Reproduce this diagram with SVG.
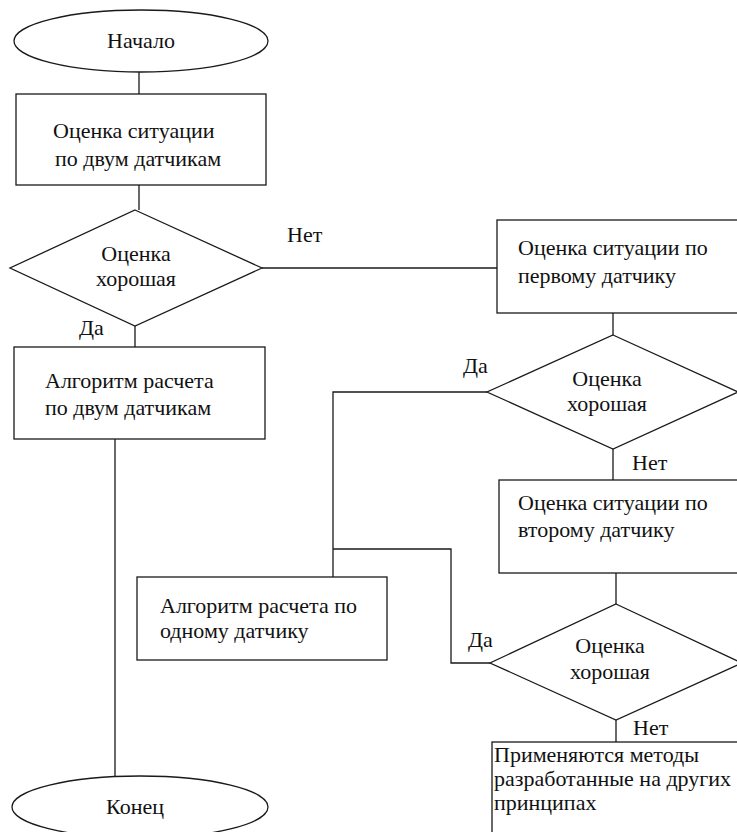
<svg xmlns="http://www.w3.org/2000/svg" width="737" height="832" viewBox="0 0 737 832" font-family="Liberation Serif, DejaVu Serif, serif" font-size="22">
<style>
.s{fill:#fff;stroke:#1a1a1a;stroke-width:1.3}
.c{fill:none;stroke:#1a1a1a;stroke-width:1.3}
text{fill:#111}
.m{text-anchor:middle}
</style>
<rect width="737" height="832" fill="#fff"/>
<g id="connectors">
<path class="c" d="M139 72V94"/>
<path class="c" d="M139 185V210"/>
<path class="c" d="M135 326V347"/>
<path class="c" d="M115 439V776"/>
<path class="c" d="M262 268H497"/>
<path class="c" d="M613 313V335"/>
<path class="c" d="M613 449V480"/>
<path class="c" d="M487 392H333V577"/>
<path class="c" d="M333 549H451V663H490"/>
<path class="c" d="M616 573V604"/>
<path class="c" d="M616 720V742"/>
</g>
<g id="start">
<ellipse class="s" cx="141" cy="41" rx="127" ry="31"/>
<text class="m" x="141" y="48">Начало</text>
</g>
<g id="box1">
<rect class="s" x="16" y="94" width="250" height="91"/>
<text x="53" y="138">Оценка ситуации</text>
<text x="55" y="166">по двум датчикам</text>
</g>
<g id="dec1">
<path class="s" d="M135 210L262 268L135 326L10 268Z"/>
<text class="m" x="136" y="261">Оценка</text>
<text class="m" x="136" y="286">хорошая</text>
</g>
<g id="box2">
<rect class="s" x="14" y="347" width="251" height="92"/>
<text x="45" y="388">Алгоритм расчета</text>
<text x="45" y="415">по двум датчикам</text>
</g>
<g id="end">
<ellipse class="s" cx="140" cy="807" rx="128" ry="31"/>
<text class="m" x="135" y="814">Конец</text>
</g>
<g id="box3">
<rect class="s" x="497" y="220" width="260" height="93"/>
<text x="518" y="255">Оценка ситуации по</text>
<text x="518" y="283">первому датчику</text>
</g>
<g id="dec2">
<path class="s" d="M613 335L738 392L613 449L487 392Z"/>
<text class="m" x="607" y="386">Оценка</text>
<text class="m" x="607" y="411">хорошая</text>
</g>
<g id="box4">
<rect class="s" x="137" y="577" width="250" height="83"/>
<text x="160" y="613">Алгоритм расчета по</text>
<text x="160" y="638">одному датчику</text>
</g>
<g id="box5">
<rect class="s" x="499" y="480" width="260" height="93"/>
<text x="518" y="510">Оценка ситуации по</text>
<text x="518" y="537">второму датчику</text>
</g>
<g id="dec3">
<path class="s" d="M616 604L742 663L616 720L490 663Z"/>
<text class="m" x="610" y="653">Оценка</text>
<text class="m" x="610" y="679">хорошая</text>
</g>
<g id="box6">
<rect class="s" x="492" y="742" width="270" height="110"/>
<text x="494" y="762">Применяются методы</text>
<text x="494" y="786">разработанные на других</text>
<text x="494" y="810">принципах</text>
</g>
<g id="labels">
<text x="79" y="335">Да</text>
<text x="287" y="242">Нет</text>
<text x="463" y="373">Да</text>
<text x="632" y="470">Нет</text>
<text x="468" y="647">Да</text>
<text x="633" y="735">Нет</text>
</g>
</svg>
